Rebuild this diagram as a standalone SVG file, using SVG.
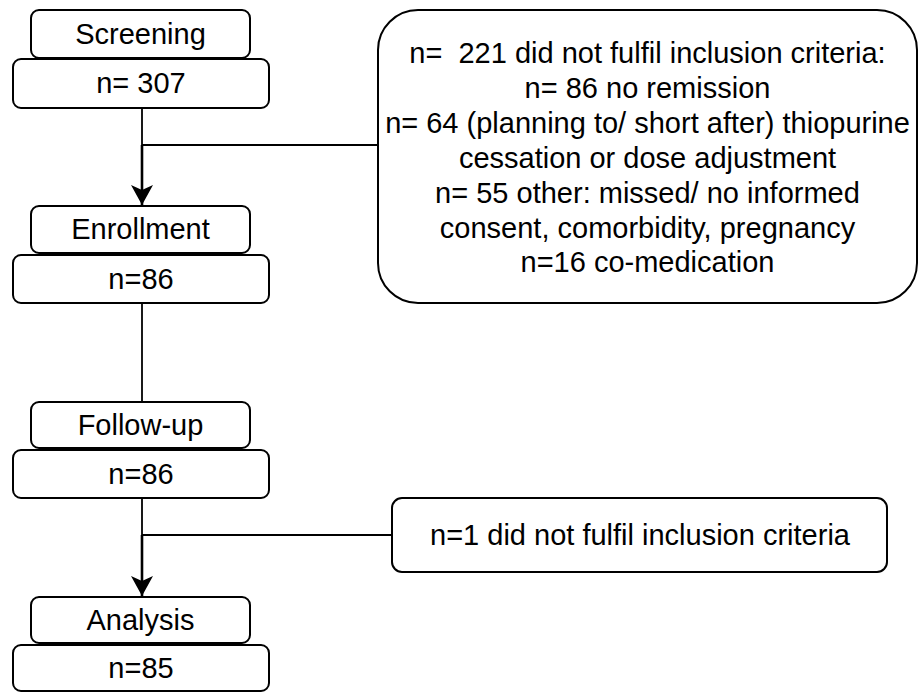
<svg xmlns="http://www.w3.org/2000/svg" width="920" height="692" viewBox="0 0 920 692">
<style>
.box{fill:#fff;stroke:#000;stroke-width:2}
.t{font-family:"Liberation Sans",Arial,sans-serif;font-size:29px;fill:#000;text-anchor:middle;dominant-baseline:central}
.ln{fill:none;stroke:#000;stroke-width:1.8}
.ar{fill:none;stroke:#000;stroke-width:2.6}
</style>
<defs>
<marker id="ah2" viewBox="0 0 20 22" refX="20" refY="11" markerWidth="20" markerHeight="22" markerUnits="userSpaceOnUse" orient="auto">
<path d="M0,0 L20,11 L0,22 L5,11 Z" fill="#000"/>
</marker>
</defs>
<g id="connectors">
<path class="ln" d="M142,108 V145 H378"/>
<path class="ar" d="M142,145 V205" marker-end="url(#ah2)"/>
<path class="ln" d="M142,303 V402"/>
<path class="ln" d="M142,498 V535 H392"/>
<path class="ar" d="M142,535 V596" marker-end="url(#ah2)"/>
</g>
<g id="screening"><rect class="box" x="31" y="10" width="219" height="48" rx="8"/><text class="t" x="140.5" y="34">Screening</text></g>
<g id="screening-n"><rect class="box" x="13" y="59" width="256" height="49" rx="8"/><text class="t" x="141" y="83">n= 307</text></g>
<g id="excluded1"><rect class="box" x="378" y="10" width="539" height="293" rx="40"/>
<text class="t" x="647.5" y="53" xml:space="preserve">n=  221 did not fulfil inclusion criteria:</text>
<text class="t" x="647.5" y="88">n= 86 no remission</text>
<text class="t" x="647.5" y="123">n= 64 (planning to/ short after) thiopurine</text>
<text class="t" x="647.5" y="158">cessation or dose adjustment</text>
<text class="t" x="647.5" y="193">n= 55 other: missed/ no informed</text>
<text class="t" x="647.5" y="228">consent, comorbidity, pregnancy</text>
<text class="t" x="647.5" y="262">n=16 co-medication</text>
</g>
<g id="enrollment"><rect class="box" x="31" y="206" width="219" height="47" rx="8"/><text class="t" x="140.5" y="229">Enrollment</text></g>
<g id="enrollment-n"><rect class="box" x="13" y="255" width="256" height="48" rx="8"/><text class="t" x="141" y="279">n=86</text></g>
<g id="followup"><rect class="box" x="31" y="402" width="219" height="46" rx="8"/><text class="t" x="140.5" y="425">Follow-up</text></g>
<g id="followup-n"><rect class="box" x="13" y="450" width="256" height="48" rx="8"/><text class="t" x="141" y="474">n=86</text></g>
<g id="excluded2"><rect class="box" x="392" y="498" width="495" height="74" rx="10"/><text class="t" x="640" y="535">n=1 did not fulfil inclusion criteria</text></g>
<g id="analysis"><rect class="box" x="31" y="597" width="219" height="46" rx="8"/><text class="t" x="140.5" y="620">Analysis</text></g>
<g id="analysis-n"><rect class="box" x="13" y="645" width="256" height="46" rx="8"/><text class="t" x="141" y="668">n=85</text></g>
</svg>
